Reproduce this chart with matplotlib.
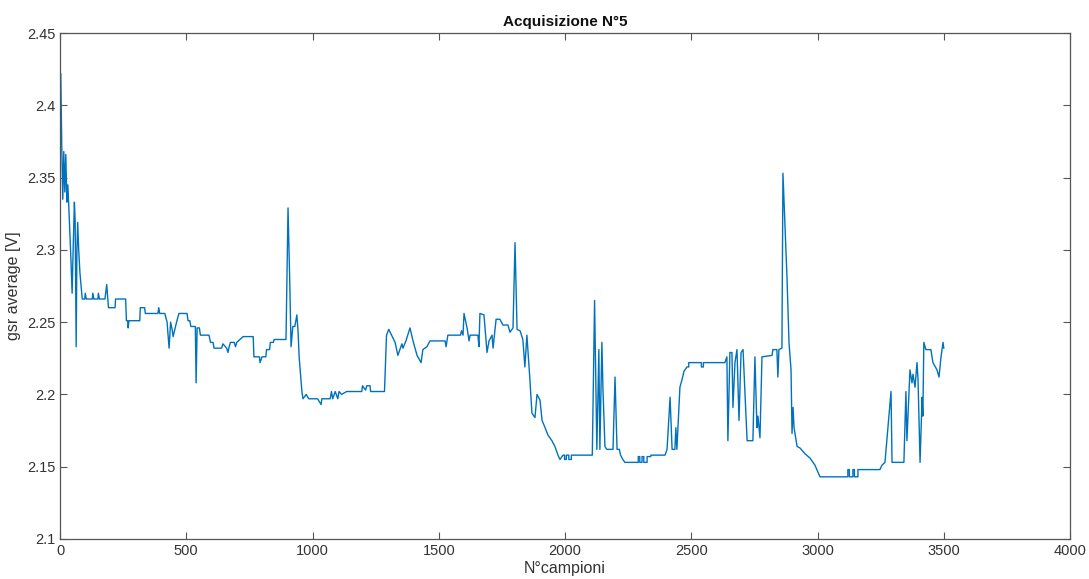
import matplotlib
matplotlib.use("Agg")
import matplotlib.pyplot as plt

# samples (sample index, gsr average in V)
samples = [
    0, 3, 7, 11, 15, 19, 23, 27, 31, 36, 44, 48, 52, 57, 60, 64, 67, 70, 74, 79,
    88, 98, 100, 104, 128, 130, 134, 150, 152, 156, 178, 185, 192, 218, 220, 260,
    263, 268, 270, 273, 316, 318, 335, 338, 388, 391, 395, 415, 424, 432, 438, 444,
    448, 463, 471, 503, 507, 514, 518, 536, 539, 543, 552, 556, 566, 590, 596, 606,
    610, 640, 645, 660, 665, 670, 675, 690, 695, 700, 725, 765, 768, 790, 792, 800,
    815, 818, 830, 833, 845, 848, 895, 903, 910, 915, 922, 930, 938, 943, 947, 958,
    962, 975, 985, 1000, 1020, 1034, 1037, 1070, 1075, 1080, 1090, 1100, 1105, 1115,
    1135, 1195, 1198, 1210, 1215, 1228, 1230, 1285, 1293, 1302, 1327, 1338, 1354, 1358,
    1370, 1386, 1398, 1414, 1430, 1437, 1453, 1465, 1525, 1529, 1536, 1586, 1590, 1596,
    1600, 1612, 1620, 1624, 1655, 1659, 1663, 1679, 1691, 1699, 1711, 1715, 1727, 1742,
    1754, 1774, 1782, 1794, 1802, 1810, 1822, 1833, 1841, 1849, 1861, 1869, 1881, 1889,
    1901, 1909, 1921, 1932, 1948, 1960, 1972, 1980, 1992, 1998, 1998, 2005, 2005, 2015,
    2015, 2025, 2025, 2108, 2117, 2126, 2134, 2138, 2146, 2150, 2158, 2165, 2190, 2198,
    2206, 2215, 2220, 2229, 2237, 2285, 2290, 2290, 2296, 2296, 2305, 2305, 2312, 2312,
    2325, 2325, 2340, 2340, 2396, 2404, 2416, 2424, 2435, 2439, 2443, 2455, 2463, 2471,
    2483, 2490, 2490, 2540, 2540, 2548, 2548, 2633, 2641, 2645, 2653, 2661, 2665, 2673,
    2681, 2689, 2697, 2705, 2713, 2721, 2744, 2752, 2760, 2764, 2772, 2780, 2820, 2823,
    2839, 2843, 2847, 2859, 2863, 2879, 2887, 2895, 2899, 2903, 2907, 2919, 2930, 2950,
    2970, 2990, 3002, 3010, 3120, 3120, 3126, 3126, 3140, 3140, 3146, 3146, 3160, 3160,
    3247, 3255, 3267, 3291, 3295, 3342, 3350, 3354, 3358, 3366, 3374, 3378, 3386, 3394,
    3398, 3406, 3414, 3417, 3421, 3429, 3437, 3449, 3457, 3473, 3481, 3489, 3497, 3500,
]
gsr = [
    2.36, 2.422, 2.372, 2.335, 2.368, 2.34, 2.366, 2.333, 2.345, 2.325, 2.29, 2.27, 2.3, 2.333, 2.32, 2.233, 2.3, 2.319, 2.3, 2.284,
    2.266, 2.266, 2.27, 2.266, 2.266, 2.27, 2.266, 2.266, 2.27, 2.266, 2.266, 2.276, 2.26, 2.26, 2.266, 2.266,
    2.251, 2.251, 2.246, 2.251, 2.251, 2.26, 2.26, 2.256, 2.256, 2.26, 2.256, 2.256, 2.25, 2.232, 2.25, 2.245,
    2.24, 2.251, 2.256, 2.256, 2.251, 2.251, 2.247, 2.247, 2.208, 2.246, 2.246, 2.241, 2.241, 2.241, 2.236, 2.236,
    2.232, 2.232, 2.235, 2.232, 2.229, 2.233, 2.236, 2.236, 2.233, 2.236, 2.24, 2.24, 2.226, 2.226, 2.222, 2.226,
    2.226, 2.231, 2.231, 2.236, 2.236, 2.238, 2.238, 2.329, 2.277, 2.233, 2.247, 2.247, 2.255, 2.243, 2.226, 2.202,
    2.197, 2.2, 2.197, 2.197, 2.197, 2.193, 2.197, 2.197, 2.202, 2.197, 2.202, 2.197, 2.202, 2.2,
    2.202, 2.202, 2.206, 2.203, 2.206, 2.206, 2.202, 2.202, 2.241, 2.245, 2.236, 2.227, 2.235, 2.232,
    2.237, 2.246, 2.237, 2.227, 2.222, 2.231, 2.233, 2.237, 2.237, 2.233, 2.241, 2.241, 2.244, 2.241,
    2.256, 2.246, 2.237, 2.241, 2.241, 2.233, 2.256, 2.255, 2.229, 2.237, 2.241, 2.232, 2.252, 2.252,
    2.248, 2.248, 2.243, 2.246, 2.305, 2.245, 2.244, 2.238, 2.219, 2.241, 2.21, 2.187, 2.184, 2.2,
    2.196, 2.182, 2.177, 2.172, 2.168, 2.164, 2.158, 2.155, 2.158, 2.158, 2.155, 2.155, 2.158, 2.158,
    2.155, 2.155, 2.158, 2.158, 2.265, 2.162, 2.231, 2.162, 2.236, 2.205, 2.164, 2.162, 2.162, 2.212,
    2.162, 2.162, 2.158, 2.155, 2.153, 2.153, 2.153, 2.157, 2.157, 2.153, 2.153, 2.157, 2.157, 2.153,
    2.153, 2.157, 2.157, 2.158, 2.158, 2.162, 2.198, 2.162, 2.162, 2.177, 2.162, 2.205, 2.21, 2.216,
    2.219, 2.219, 2.222, 2.222, 2.219, 2.219, 2.222, 2.222, 2.226, 2.168, 2.229, 2.229, 2.191, 2.222,
    2.231, 2.182, 2.229, 2.231, 2.2, 2.168, 2.168, 2.226, 2.177, 2.185, 2.17, 2.226, 2.227, 2.231,
    2.231, 2.212, 2.231, 2.232, 2.353, 2.281, 2.236, 2.217, 2.173, 2.191, 2.177, 2.164, 2.163, 2.159,
    2.156, 2.151, 2.146, 2.143, 2.143, 2.148, 2.148, 2.143, 2.143, 2.148, 2.148, 2.143, 2.143, 2.148,
    2.148, 2.151, 2.153, 2.202, 2.153, 2.153, 2.202, 2.168, 2.184, 2.217, 2.208, 2.214, 2.205, 2.222,
    2.21, 2.153, 2.198, 2.185, 2.236, 2.231, 2.231, 2.231, 2.222, 2.217, 2.212, 2.226, 2.236, 2.232,
]

plt.rcParams['font.family'] = ['Liberation Sans', 'DejaVu Sans']

fig = plt.figure(figsize=(10.89, 5.79), dpi=100)
ax = fig.add_axes([0.0551, 0.0691, 0.9275, 0.8739])

ax.plot(samples, gsr, color='#0072BD', linewidth=1.0)

ax.set_xlim(0, 4000)
ax.set_ylim(2.1, 2.45)
ax.set_xticks(range(0, 4001, 500))
ax.set_yticks([2.1, 2.15, 2.2, 2.25, 2.3, 2.35, 2.4, 2.45])
ax.set_yticklabels(['2.1', '2.15', '2.2', '2.25', '2.3', '2.35', '2.4', '2.45'])

ax.tick_params(direction='in', top=True, right=True, length=5, width=0.8,
               colors='#555555', labelcolor='#333333', labelsize=10.5)
for s in ax.spines.values():
    s.set_color('#555555')
    s.set_linewidth(0.9)

ax.set_title('Acquisizione N°5', fontsize=11, fontweight='bold', color='#111111', pad=5)
ax.set_xlabel('N°campioni', fontsize=11.5, color='#333333', labelpad=2)
ax.set_ylabel('gsr average [V]', fontsize=11.5, color='#333333', labelpad=4)

fig.savefig('out.png', dpi=100, facecolor='white')
